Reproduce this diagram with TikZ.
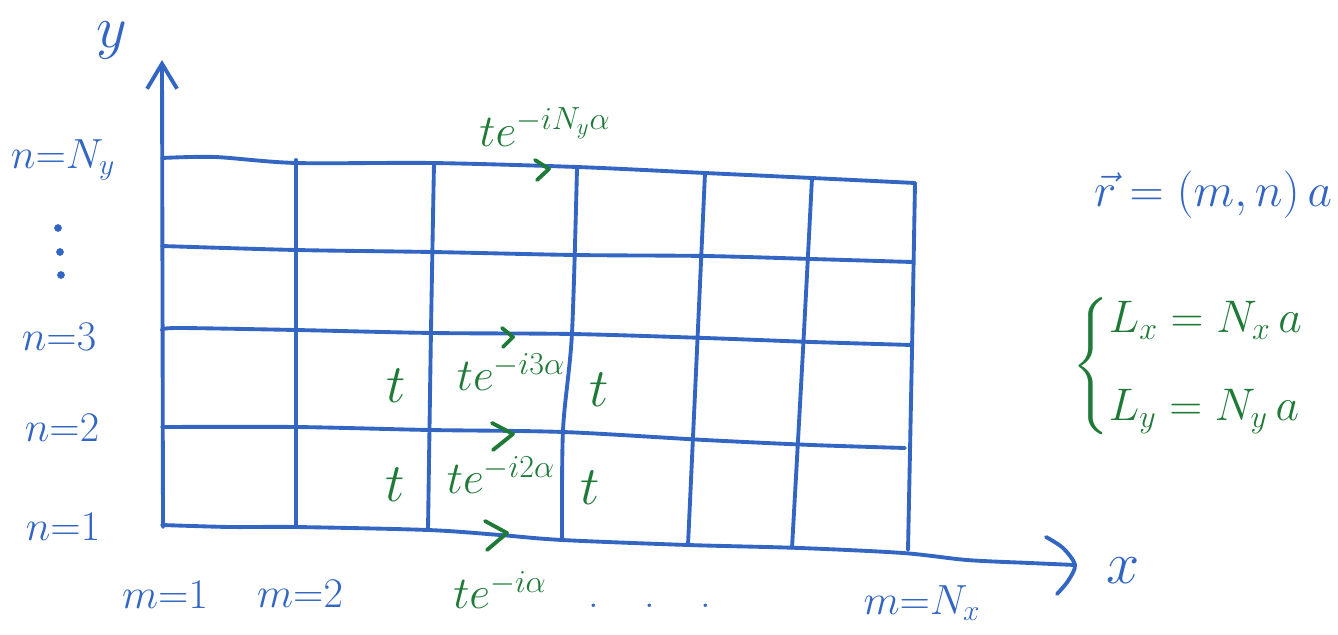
\RequirePackage{fix-cm}
\documentclass[tikz,border=0pt]{standalone}
\usepackage{amsmath,amssymb}
\usepackage{xcolor}
\usepackage{tikz}
\usetikzlibrary{arrows.meta}
\definecolor{penblue}{RGB}{51,102,194}
\definecolor{pengreen}{RGB}{31,122,55}

\begin{document}
\begin{tikzpicture}[x=0.02cm,y=-0.02cm,
  gridline/.style={penblue,line width=2.2pt,line cap=round,line join=round},
  hopmark/.style={pengreen,line width=2.2pt,line cap=round,line join=round},
  lbl/.style={penblue,font=\fontsize{24}{28}\selectfont,inner sep=0pt},
  axlbl/.style={penblue,font=\fontsize{34}{38}\selectfont,inner sep=0pt},
  hop/.style={pengreen,font=\fontsize{26}{30}\selectfont,inner sep=0pt},
  tee/.style={pengreen,font=\fontsize{31}{34}\selectfont,inner sep=0pt}]
\useasboundingbox (0,0) rectangle (1338,635);
% rows of the lattice
\draw[gridline] plot[smooth] coordinates {(162,158) (215,157) (296,163) (432,163) (577,167) (705,173) (812,178) (915,183)};
\draw[gridline] plot[smooth] coordinates {(162,246) (296,250) (432,252) (575,255) (705,256) (812,259) (912,262)};
\draw[gridline] plot[smooth] coordinates {(162,330) (178,328) (296,330) (433,333) (572,334) (705,338) (812,342) (912,345)};
\draw[gridline] plot[smooth] coordinates {(162,427) (296,427) (430,430) (563,432) (705,440) (812,445) (905,448)};
% columns of the lattice
\draw[gridline] (296,160) -- (296,527);
\draw[gridline] plot[smooth] coordinates {(434,163) (431,330) (428,530)};
\draw[gridline] plot[smooth] coordinates {(577,168) (572,333) (563,430) (562,540)};
\draw[gridline] plot[smooth] coordinates {(705,173) (697,350) (688,545)};
\draw[gridline] plot[smooth] coordinates {(812,178) (803,350) (792,548)};
\draw[gridline] plot[smooth] coordinates {(915,183) (912,350) (908,550)};
% axes
\draw[gridline,-{Straight Barb[length=5mm,width=6mm]}] (163,527) -- (162,60);
\draw[gridline] plot[smooth] coordinates {(162,525) (230,527) (296,527) (428,530) (500,535) (562,540) (688,545) (800,548) (903,553) (967,560) (1030,563) (1075,565)};
\draw[gridline] plot[smooth] coordinates {(1046,537) (1063,548) (1075,565) (1068,581) (1057,594)};
\node[axlbl] (ylab) at (112,40) {$y$};
\node[axlbl] (xlab) at (1123,571) {$x$};
% site labels
\node[lbl] (nNy) at (63,160) {$n{=}N_y$};
\fill[penblue] (58,228) circle (2.2pt) (60,252) circle (2.2pt) (61,275) circle (2.2pt);
\node[lbl] (n3) at (59,337) {$n{=}3$};
\node[lbl] (n2) at (62,428) {$n{=}2$};
\node[lbl] (n1) at (63,527) {$n{=}1$};
\node[lbl] (m1) at (165,595) {$m{=}1$};
\node[lbl] (m2) at (300,594) {$m{=}2$};
\node[lbl] (dots) at (650,606) {.\hspace{26pt}.\hspace{26pt}.};
\node[lbl] (mNx) at (922,603) {$m{=}N_x$};
\node[lbl,font=\fontsize{27}{32}\selectfont] (rvec) at (1213,195) {$\vec{r}=(m,n)\,a$};
% hoppings
\node[hop] (hNy) at (545,127) {$te^{-iN_y\alpha}$};
\node[tee] (t3l) at (396,386) {$t$};
\node[hop] (h3) at (511,372) {$te^{-i3\alpha}$};
\node[tee] (t3r) at (599,390) {$t$};
\node[tee] (t2l) at (395,485) {$t$};
\node[hop] (h2) at (501,475) {$te^{-i2\alpha}$};
\node[tee] (t2r) at (590,488) {$t$};
\node[hop] (h1) at (500,590) {$te^{-i\alpha}$};
\coordinate (aNy) at (549,169);
\coordinate (a3) at (513,337);
\coordinate (a2) at (513,434);
\coordinate (a1) at (507,533);
\draw[hopmark] (aNy) ++(-14,-9) -- (aNy) -- ++(-12,11);
\draw[hopmark] (a3) ++(-11,-9) -- (a3) -- ++(-10,10);
\draw[hopmark] (a2) ++(-21,-11) -- (a2) -- ++(-20,16);
\draw[hopmark] (a1) ++(-22,-12) -- (a1) -- ++(-20,17);
% sizes
\node[hop] (len) at (1188,366) {$\left\{\begin{array}{@{}l@{}} L_x = N_x\,a\\[20pt] L_y = N_y\,a\end{array}\right.$};
\end{tikzpicture}
\end{document}
